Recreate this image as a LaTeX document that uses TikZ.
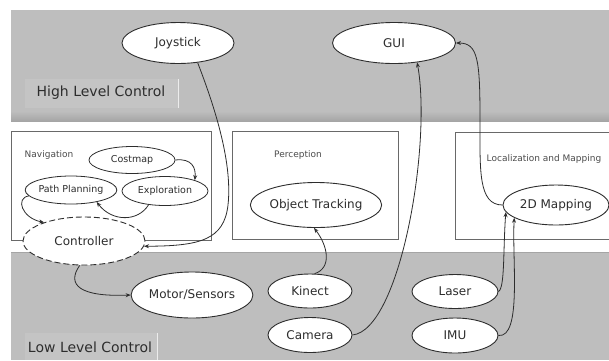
\documentclass[tikz,border=0pt]{standalone}
\usepackage{fontspec}
\setmainfont{DejaVu Sans}
\usetikzlibrary{shapes.geometric,arrows.meta}
\definecolor{band}{RGB}{190,190,190}
\definecolor{bandedge}{RGB}{165,165,165}
\definecolor{labelfill}{RGB}{196,196,196}
\definecolor{ink}{RGB}{45,45,45}
\definecolor{boxline}{RGB}{105,105,105}
\tikzset{
  bigell/.style={ellipse, draw=ink, line width=0.9pt, fill=white, inner sep=0pt,
    text=ink, font=\fontsize{12}{14}\selectfont},
  smallell/.style={ellipse, draw=ink, line width=0.8pt, fill=white, inner sep=0pt,
    text=ink, font=\fontsize{9.5}{11}\selectfont},
  boxframe/.style={draw=boxline, line width=1pt},
  boxlabel/.style={text=ink!85, font=\fontsize{9}{10}\selectfont, inner sep=0pt},
  bandlabel/.style={text=ink, font=\fontsize{14}{16}\selectfont, inner sep=0pt},
  conn/.style={draw=ink, line width=0.8pt, -{Stealth[length=5pt,width=4pt]}}
}
\begin{document}
\begin{tikzpicture}[x=1pt,y=-1pt]
\useasboundingbox (0,0) rectangle (609,360);
\fill[white] (0,0) rectangle (609,360);

% grey bands for the two control levels
\fill[band] (11,10) rectangle (609,121);
\shade[top color=band, bottom color=bandedge] (11,111) rectangle (609,121);
\fill[band] (11,252) rectangle (609,360);
\draw[bandedge, line width=1pt] (11,252.5) -- (609,252.5);

% band captions
\fill[labelfill] (25,79) rectangle (178,108);
\draw[white!70!band] (178,79) -- (178,108);
\node[bandlabel] (hlc) at (101,93) {High Level Control};
\fill[labelfill] (25,333) rectangle (157,360);
\draw[white!70!band] (157,333) -- (157,360);
\node[bandlabel] (llc) at (90,347) {Low Level Control};

% middle-layer modules
\draw[boxframe] (11,131) rectangle (211,240);
\draw[boxframe] (232,131) rectangle (398,239);
\draw[boxframe] (455,132) rectangle (615,239);
\node[boxlabel] (navl) at (49,155) {Navigation};
\node[boxlabel] (perl) at (298,155) {Perception};
\node[boxlabel] (locl) at (544,159) {Localization and Mapping};

% high level nodes
\node[bigell, minimum width=112pt, minimum height=41pt] (joy) at (178,43) {Joystick};
\node[bigell, minimum width=123pt, minimum height=41pt] (gui) at (394,43) {GUI};

% navigation nodes
\node[smallell, minimum width=86pt, minimum height=27pt] (cm) at (132,160) {Costmap};
\node[smallell, minimum width=84pt, minimum height=28pt] (pp) at (71,190) {Path Planning};
\node[smallell, minimum width=86pt, minimum height=29pt] (ex) at (165,191) {Exploration};
\node[bigell, dash pattern=on 6pt off 3pt, minimum width=122pt, minimum height=48pt] (ctrl) at (84,241) {Controller};

% perception and mapping nodes
\node[bigell, minimum width=127pt, minimum height=45pt] (ot) at (316,205) {Object Tracking};
\node[bigell, minimum width=106pt, minimum height=40pt] (map) at (556,205) {2D Mapping};

% low level nodes
\node[bigell, minimum width=106pt, minimum height=46pt] (ms) at (192,295) {Motor/Sensors};
\node[bigell, minimum width=84pt, minimum height=34pt] (kin) at (310,291) {Kinect};
\node[bigell, minimum width=84pt, minimum height=35pt] (cam) at (310,335) {Camera};
\node[bigell, minimum width=86pt, minimum height=34pt] (laser) at (455,291.5) {Laser};
\node[bigell, minimum width=86pt, minimum height=35pt] (imu) at (455,335.5) {IMU};

% connectors
\draw[conn] (joy.-45) .. controls (212,100) and (233,160) .. (228,205)
            .. controls (224,240) and (200,246) .. (ctrl.-5);
\draw[conn] (cm.east) .. controls (192,158) and (196,168) .. (ex.20);
\draw[conn] (ex.220) .. controls (138,222) and (112,222) .. (pp.-25);
\draw[conn] (pp.188) .. controls (15,198) and (22,218) .. (ctrl.155);
\draw[conn] (ctrl.-100) .. controls (66,285) and (80,297) .. (ms.west);
\draw[conn] (kin.75) .. controls (332,268) and (328,246) .. (ot.-95);
\draw[conn] (cam.east) .. controls (400,330) and (432,145) .. (gui.-40);
\draw[conn] (map.west) .. controls (478,205) and (480,170) .. (480,120)
            .. controls (480,60) and (478,43) .. (gui.east);
\draw[conn] (laser.east) .. controls (505,288) and (503,250) .. (map.188);
\draw[conn] (imu.east) .. controls (522,338) and (512,260) .. (map.197);
\end{tikzpicture}
\end{document}
